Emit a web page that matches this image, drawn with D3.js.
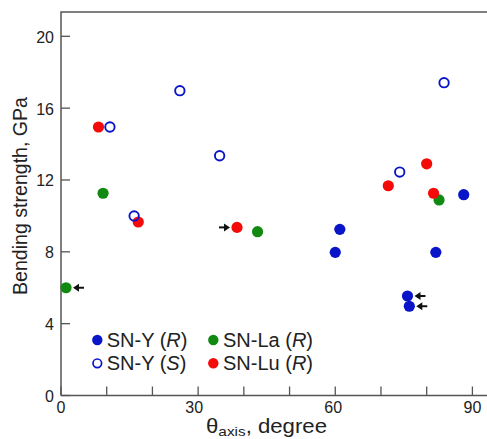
<!DOCTYPE html>
<html><head><meta charset="utf-8">
<script src="https://cdn.jsdelivr.net/npm/d3@7"></script>
<style>body{margin:0;background:#fff}svg{display:block}text{font-family:Arial,"Liberation Sans",sans-serif;fill:#222}</style>
</head><body><svg id="c" width="487" height="439"></svg>
<script>
const yTicks=[0,4,8,12,16,20];
const xTicks=[0,30,60,90];
const xMinor=[10,20,40,50,70,80];
const snYR_x=[60.0,61.0,75.8,76.2,82.0,88.1];
const snYR_y=[7.97,9.25,5.54,4.97,7.97,11.18];
const snYS_x=[10.7,16.0,26.0,34.7,74.1,83.8];
const snYS_y=[14.95,10.0,16.97,13.35,12.44,17.42];
const snLa_x=[1.1,9.2,43.0,82.7];
const snLa_y=[6.0,11.26,9.12,10.89];
const snLu_x=[8.2,16.9,38.5,71.6,80.0,81.5];
const snLu_y=[14.95,9.66,9.36,11.68,12.9,11.26];
// arrows (-1 = pointing left, placed right of point; +1 = pointing right, placed left)
const arrowX=[1.1,38.5,75.8,76.2];
const arrowY=[6.0,9.36,5.54,4.97];
const arrowDir=[-1,1,-1,-1];

const svg=d3.select("#c");
const x=d3.scaleLinear().domain([0,90]).range([61,472.4]);
const y=d3.scaleLinear().domain([0,20]).range([395.5,36.3]);
const frameTop=12, frameRight=500;
const axisColor="#555";

svg.append("path").attr("d",`M${x(0)},${y(0)}V${frameTop}H${frameRight}`).attr("fill","none").attr("stroke",axisColor).attr("stroke-width",1.5);
svg.append("line").attr("x1",x(0)).attr("x2",frameRight).attr("y1",y(0)).attr("y2",y(0)).attr("stroke",axisColor).attr("stroke-width",1.5);

yTicks.forEach(t=>{
  svg.append("line").attr("x1",x(0)).attr("x2",x(0)+9).attr("y1",y(t)).attr("y2",y(t)).attr("stroke",axisColor).attr("stroke-width",1.3);
  svg.append("text").attr("x",54).attr("y",y(t)+6.5).attr("text-anchor","end").attr("font-size",16).text(t);
});
xTicks.concat(xMinor).forEach(t=>{
  svg.append("line").attr("x1",x(t)).attr("x2",x(t)).attr("y1",y(0)).attr("y2",y(0)-9).attr("stroke",axisColor).attr("stroke-width",1.3);
});
xTicks.forEach(t=>{
  const dx = (t===30)?-4:(t===60?-2:0);
  svg.append("text").attr("x",x(t)+dx).attr("y",413.3).attr("text-anchor","middle").attr("font-size",16).text(t);
});

svg.append("text").attr("transform","translate(26.5,295) rotate(-90)").attr("text-anchor","start")
  .attr("font-size",20).attr("textLength",198).attr("lengthAdjust","spacingAndGlyphs").text("Bending strength, GPa");
const xl=svg.append("text").attr("x",206).attr("y",432.5).attr("font-size",19.5)
  .attr("textLength",121).attr("lengthAdjust","spacingAndGlyphs");
xl.append("tspan").text("θ");
xl.append("tspan").attr("font-size",13.5).attr("dy",3.5).text("axis");
xl.append("tspan").attr("dy",-3.5).text(", degree");

const blue="#0a14c8", green="#128a12", red="#f50a0a";
function filled(xs,ys,c){xs.forEach((v,i)=>svg.append("circle").attr("cx",x(v)).attr("cy",y(ys[i])).attr("r",5.6).attr("fill",c));}
filled(snLa_x,snLa_y,green);
filled(snLu_x,snLu_y,red);
filled(snYR_x,snYR_y,blue);
snYS_x.forEach((v,i)=>svg.append("circle").attr("cx",x(v)).attr("cy",y(snYS_y[i])).attr("r",4.7).attr("fill","none").attr("stroke",blue).attr("stroke-width",1.9));

arrowX.forEach((v,i)=>{
  const d=arrowDir[i], cx=x(v), cy=y(arrowY[i]);
  const tip = d<0 ? cx+7 : cx-7;
  const tail = d<0 ? cx+18 : cx-18;
  svg.append("line").attr("x1",tail).attr("x2",tip-d*4).attr("y1",cy).attr("y2",cy).attr("stroke","#111").attr("stroke-width",2);
  svg.append("path").attr("d",`M${tip},${cy}L${tip-d*6},${cy-4}L${tip-d*6},${cy+4}Z`).attr("fill","#111");
});

const leg=[
  {x:97.3,y:340,tx:106.7,ty:346.5,c:blue,open:false,name:"SN-Y (",it:"R"},
  {x:97.3,y:363.3,tx:106.7,ty:370,c:blue,open:true,name:"SN-Y (",it:"S"},
  {x:213.3,y:340,tx:223,ty:346.5,c:green,open:false,name:"SN-La (",it:"R"},
  {x:213.3,y:363.3,tx:223,ty:370,c:red,open:false,name:"SN-Lu (",it:"R"}
];
leg.forEach(l=>{
  if(l.open) svg.append("circle").attr("cx",l.x).attr("cy",l.y).attr("r",4.3).attr("fill","none").attr("stroke",l.c).attr("stroke-width",1.7);
  else svg.append("circle").attr("cx",l.x).attr("cy",l.y).attr("r",5.2).attr("fill",l.c);
  const t=svg.append("text").attr("x",l.tx).attr("y",l.ty).attr("font-size",20);
  t.append("tspan").text(l.name);
  t.append("tspan").attr("font-style","italic").text(l.it);
  t.append("tspan").text(")");
});
</script></body></html>
